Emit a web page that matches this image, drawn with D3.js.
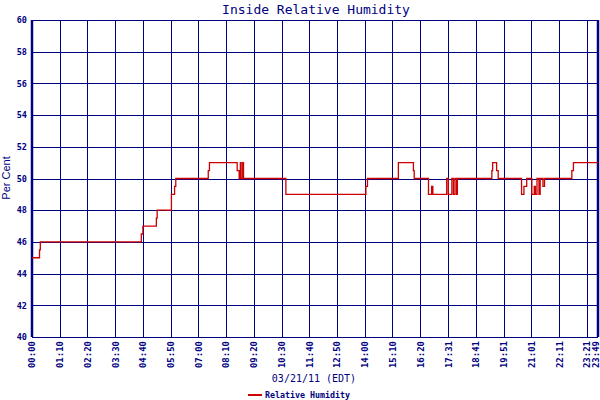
<!DOCTYPE html>
<html>
<head>
<meta charset="utf-8">
<script src="https://cdn.jsdelivr.net/npm/d3@7"></script>
<style>
  body { margin: 0; background: #fff; }
  svg { display: block; }
</style>
</head>
<body>
<div id="chart"></div>
<script>
// tick labels along the bottom (local time)
const timeTicks = ["00:00", "01:10", "02:20", "03:30", "04:40", "05:50", "07:00",
    "08:10", "09:20", "10:30", "11:40", "12:50", "14:00", "15:10", "16:20",
    "17:31", "18:41", "19:51", "21:01", "22:11", "23:21", "23:49"];
const humidityTicks = [40, 42, 44, 46, 48, 50, 52, 54, 56, 58, 60];

// step changes of inside relative humidity
const rhTimes = ["00:00", "00:19", "00:21", "04:36", "04:40", "05:14", "05:16",
    "05:52", "06:00", "06:03", "07:25", "07:28", "08:38", "08:43", "08:46",
    "08:48", "08:52", "08:54", "10:41", "14:03", "14:07", "15:25", "16:03",
    "16:05", "16:41", "16:49", "16:52", "17:27", "17:31", "17:40", "17:44",
    "17:48", "17:52", "17:54", "19:21", "19:23", "19:33", "19:37", "20:36",
    "20:42", "20:49", "21:02", "21:08", "21:11", "21:15", "21:20", "21:23",
    "21:30", "21:34", "22:43", "22:47", "23:49"];
const rhValues = [45, 45.5, 46, 46.5, 47, 47.5, 48,
    49, 49.5, 50, 50.5, 51, 50.5, 50, 51,
    50, 51, 50, 49, 49.5, 50, 51, 50.5,
    50, 49, 49.5, 49, 50, 49, 50, 49,
    50, 49, 50, 50.5, 51, 50.5, 50, 49,
    49.5, 50, 49, 49.5, 49, 50, 49, 50,
    49.5, 50, 50.5, 51, 51];

const toMin = s => { const p = s.split(":"); return +p[0] * 60 + +p[1]; };

const navy = "#000080";
const mono = "'DejaVu Sans Mono', 'Liberation Mono', monospace";

const margin = {top: 20, right: 2, bottom: 63, left: 32};
const width = 600 - margin.left - margin.right;
const height = 400 - margin.top - margin.bottom;

const svg = d3.select("#chart").append("svg")
    .attr("width", 600)
    .attr("height", 400);

const g = svg.append("g")
    .attr("transform", "translate(" + margin.left + "," + margin.top + ")");

const x = d3.scaleLinear()
    .domain([0, toMin(timeTicks[timeTicks.length - 1])])
    .range([0, width]);

const y = d3.scaleLinear()
    .domain([40, 60])
    .range([height, 0]);

// horizontal grid + y labels
const yAxis = d3.axisLeft(y)
    .tickValues(humidityTicks)
    .tickSize(-width)
    .tickPadding(5)
    .tickFormat(d3.format("d"));

g.append("g")
    .attr("class", "y-axis")
    .call(yAxis)
    .call(a => a.select(".domain").remove())
    .call(a => a.selectAll("line")
        .attr("stroke", navy)
        .attr("shape-rendering", "crispEdges"))
    .call(a => a.selectAll("text")
        .attr("fill", navy)
        .style("font-family", mono)
        .style("font-size", "8.5px")
        .style("font-weight", "bold"));

// vertical grid + rotated time labels
const xAxis = d3.axisBottom(x)
    .tickValues(timeTicks.map(toMin))
    .tickSize(-height)
    .tickFormat((d, i) => timeTicks[i]);

const xg = g.append("g")
    .attr("class", "x-axis")
    .attr("transform", "translate(0," + height + ")")
    .call(xAxis)
    .call(a => a.select(".domain").remove())
    .call(a => a.selectAll("line")
        .attr("stroke", navy)
        .attr("shape-rendering", "crispEdges"));

xg.selectAll("text")
    .attr("fill", navy)
    .style("font-family", mono)
    .style("font-size", "9px")
    .style("font-weight", "bold")
    .attr("text-anchor", "end")
    .attr("transform", "rotate(-90)")
    .attr("x", -4)
    .attr("y", (d, i) => i === timeTicks.length - 1 ? -2.5 : 0)
    .attr("dy", "0.32em");

// frame: thin top/bottom, thick sides
g.append("line").attr("x1", 0).attr("x2", width).attr("y1", 0).attr("y2", 0)
    .attr("stroke", navy).attr("shape-rendering", "crispEdges");
g.append("line").attr("x1", 0).attr("x2", width).attr("y1", height).attr("y2", height)
    .attr("stroke", navy).attr("shape-rendering", "crispEdges");
g.append("line").attr("x1", 0).attr("x2", 0).attr("y1", 0).attr("y2", height)
    .attr("stroke", navy).attr("stroke-width", 2.5);
g.append("line").attr("x1", width).attr("x2", width).attr("y1", 0).attr("y2", height)
    .attr("stroke", navy).attr("stroke-width", 2.5);

// humidity step line
const rhData = rhTimes.map((t, i) => ({t: toMin(t), v: rhValues[i]}));

const line = d3.line()
    .curve(d3.curveStepAfter)
    .x(d => x(d.t))
    .y(d => y(d.v));

g.append("path")
    .datum(rhData)
    .attr("fill", "none")
    .attr("stroke", "#cc0000")
    .attr("stroke-width", 1.3)
    .attr("d", line);

// titles
svg.append("text")
    .attr("x", 316)
    .attr("y", 14)
    .attr("text-anchor", "middle")
    .attr("fill", navy)
    .style("font-family", mono)
    .style("font-size", "13px")
    .text("Inside Relative Humidity");

svg.append("text")
    .attr("x", 314)
    .attr("y", 382)
    .attr("text-anchor", "middle")
    .attr("fill", navy)
    .style("font-family", mono)
    .style("font-size", "10px")
    .text("03/21/11 (EDT)");

svg.append("text")
    .attr("transform", "translate(10,178) rotate(-90)")
    .attr("text-anchor", "middle")
    .attr("fill", navy)
    .style("font-family", "'Liberation Sans', Arial, sans-serif")
    .style("font-size", "11px")
    .text("Per Cent");

// legend
svg.append("line")
    .attr("x1", 248).attr("x2", 262)
    .attr("y1", 395).attr("y2", 395)
    .attr("stroke", "#cc0000")
    .attr("stroke-width", 2);

svg.append("text")
    .attr("x", 265)
    .attr("y", 398)
    .attr("fill", navy)
    .style("font-family", mono)
    .style("font-size", "8.3px")
    .style("font-weight", "bold")
    .text("Relative Humidity");
</script>
</body>
</html>
